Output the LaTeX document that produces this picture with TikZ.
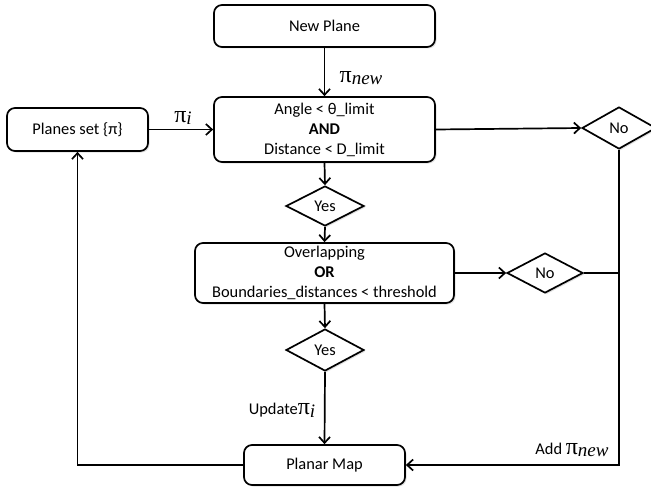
\documentclass[tikz,border=0pt]{standalone}
\usepackage{fontspec}
\setmainfont{Carlito}
\newfontfamily\pifont{Liberation Serif}
\usetikzlibrary{arrows.meta,shapes.geometric,shadows}
\newcommand{\mypi}{{\pifont\fontsize{24}{24}\selectfont π}}
\newcommand{\mysub}[1]{\raisebox{-0.35ex}{\pifont\itshape\fontsize{19}{19}\selectfont #1}}
\begin{document}
\begin{tikzpicture}[x=1pt,y=-1pt,
  font=\fontsize{16.4}{20}\selectfont,
  shad/.style={drop shadow={opacity=0.25,shadow xshift=1.5pt,shadow yshift=-1.5pt}},
  box/.style={draw,line width=1.7pt,rounded corners=8pt,fill=white,shad,align=center,inner sep=0pt},
  dia/.style={draw,line width=1.7pt,diamond,fill=white,shad,inner sep=0pt},
  conn/.style={line width=1.7pt},
  arr/.style={conn,-{Straight Barb[length=6pt,width=11pt,line width=1.7pt]}}
]
\useasboundingbox (0,0) rectangle (651,487);
\node[box,minimum width=221pt,minimum height=42pt] (newplane) at (324.5,26) {New Plane};
\node[box,minimum width=221pt,minimum height=65pt] (cond1) at (324.5,129.5) {Angle < θ\_limit\\\textbf{AND}\\Distance < D\_limit};
\node[box,minimum width=141pt,minimum height=43pt] (planes) at (77.5,129.5) {Planes set \{π\}};
\node[dia,minimum width=74pt,minimum height=42pt] (no1) at (619,128) {No};
\node[dia,minimum width=78pt,minimum height=40pt] (yes1) at (325,206) {Yes};
\node[box,minimum width=259pt,minimum height=60pt] (cond2) at (324.5,273) {Overlapping\\\textbf{OR}\\Boundaries\_distances < threshold};
\node[dia,minimum width=76pt,minimum height=40pt] (no2) at (545,273) {No};
\node[dia,minimum width=78pt,minimum height=42pt] (yes2) at (325,350) {Yes};
\node[box,minimum width=161pt,minimum height=40pt] (map) at (324.5,465) {Planar Map};
\coordinate (jn) at (no1.south |- no2.east);
\coordinate (cr) at (no1.south |- map.east);
\draw[arr] (newplane.south) -- (cond1.north);
\draw[arr] (planes.east) -- (cond1.west);
\draw[arr] (cond1.east) -- (no1.west);
\draw[arr] (cond1.south) -- (yes1.north);
\draw[arr] (yes1.south) -- (cond2.north);
\draw[arr] (cond2.east) -- (no2.west);
\draw[arr] (cond2.south) -- (yes2.north);
\draw[arr] (yes2.south) -- (map.north);
\draw[conn] (no2.east) -- (jn);
\draw[arr] (no1.south) -- (cr) -- (map.east);
\draw[arr] (map.west) -| (planes.south);
\node (lnew) at (361,78) {\mypi\mysub{new}};
\node (li) at (183,118) {\mypi\mysub{i}};
\node (lupd) at (282,410) {Update\mypi\mysub{i}};
\node (ladd) at (572,450) {Add \mypi\mysub{new}};
\end{tikzpicture}
\end{document}
